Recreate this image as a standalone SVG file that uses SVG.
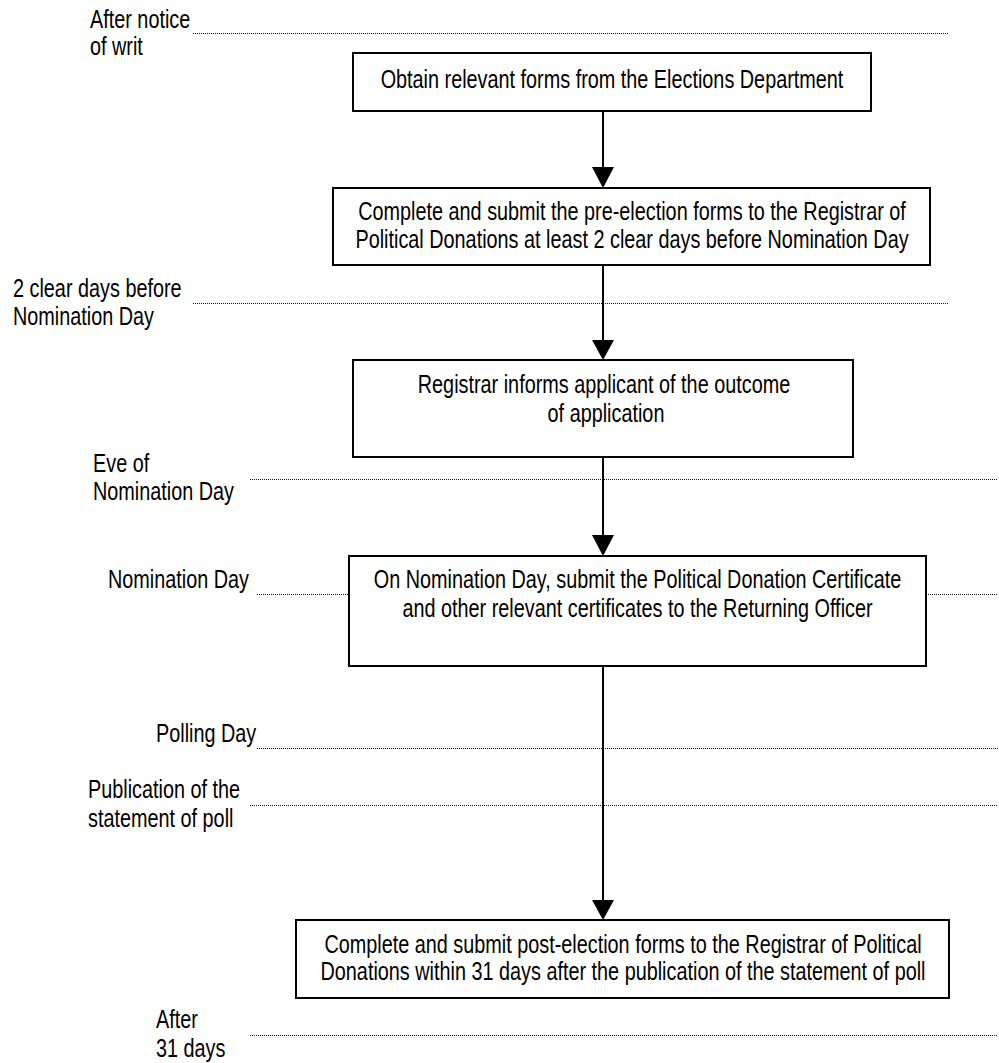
<svg xmlns="http://www.w3.org/2000/svg" width="999" height="1063" viewBox="0 0 999 1063">
<style>
text{font-family:"Liberation Sans",Arial,sans-serif;font-size:25.5px;fill:#000}
.c{text-anchor:middle}
.box{fill:#fff;stroke:#000;stroke-width:2}
.dot{stroke:#111;stroke-width:1;stroke-dasharray:1 1;fill:none}
.conn{stroke:#000;stroke-width:2;fill:none}
.head{fill:#000}
</style>
<rect width="999" height="1063" fill="#fff"/>
<g id="timeline">
<line class="dot" x1="193" y1="33.5" x2="948" y2="33.5"/>
<line class="dot" x1="193" y1="303.5" x2="948" y2="303.5"/>
<line class="dot" x1="250" y1="479.5" x2="998" y2="479.5"/>
<line class="dot" x1="257" y1="594.5" x2="349" y2="594.5"/>
<line class="dot" x1="928" y1="594.5" x2="998" y2="594.5"/>
<line class="dot" x1="257" y1="748.5" x2="998" y2="748.5"/>
<line class="dot" x1="250" y1="805.5" x2="998" y2="805.5"/>
<line class="dot" x1="250" y1="1035.5" x2="998" y2="1035.5"/>
<text transform="matrix(0.778 0 0 1 90 28)">After notice</text>
<text transform="matrix(0.778 0 0 1 90 55)">of writ</text>
<text transform="matrix(0.778 0 0 1 13 297)">2 clear days before</text>
<text transform="matrix(0.778 0 0 1 13 325)">Nomination Day</text>
<text transform="matrix(0.778 0 0 1 93 472)">Eve of</text>
<text transform="matrix(0.778 0 0 1 93 500)">Nomination Day</text>
<text transform="matrix(0.778 0 0 1 108 588)">Nomination Day</text>
<text transform="matrix(0.778 0 0 1 156 742)">Polling Day</text>
<text transform="matrix(0.778 0 0 1 88 798)">Publication of the</text>
<text transform="matrix(0.778 0 0 1 88 827)">statement of poll</text>
<text transform="matrix(0.778 0 0 1 156 1028)">After</text>
<text transform="matrix(0.778 0 0 1 156 1057)">31 days</text>
</g>
<g id="connectors">
<line class="conn" x1="603" y1="111" x2="603" y2="170"/>
<polygon class="head" points="592,167 614,167 603,188"/>
<line class="conn" x1="603" y1="265" x2="603" y2="343"/>
<polygon class="head" points="592,340 614,340 603,360"/>
<line class="conn" x1="603" y1="457" x2="603" y2="538"/>
<polygon class="head" points="592,535 614,535 603,556"/>
<line class="conn" x1="603" y1="666" x2="603" y2="903"/>
<polygon class="head" points="592,900 614,900 603,920"/>
</g>
<g id="node1">
<rect class="box" x="353" y="53" width="518" height="58"/>
<text class="c" transform="matrix(0.778 0 0 1 612 88)">Obtain relevant forms from the Elections Department</text>
</g>
<g id="node2">
<rect class="box" x="333" y="188" width="597" height="77"/>
<text class="c" transform="matrix(0.778 0 0 1 632 220)">Complete and submit the pre-election forms to the Registrar of</text>
<text class="c" transform="matrix(0.778 0 0 1 632 248)">Political Donations at least 2 clear days before Nomination Day</text>
</g>
<g id="node3">
<rect class="box" x="353" y="360" width="500" height="97"/>
<text class="c" transform="matrix(0.778 0 0 1 604 393)">Registrar informs applicant of the outcome</text>
<text class="c" transform="matrix(0.778 0 0 1 606 422)">of application</text>
</g>
<g id="node4">
<rect class="box" x="349" y="556" width="577" height="110"/>
<text class="c" transform="matrix(0.778 0 0 1 637.5 588)">On Nomination Day, submit the Political Donation Certificate</text>
<text class="c" transform="matrix(0.778 0 0 1 637.5 617)">and other relevant certificates to the Returning Officer</text>
</g>
<g id="node5">
<rect class="box" x="296" y="920" width="653" height="78"/>
<text class="c" transform="matrix(0.778 0 0 1 623 953)">Complete and submit post-election forms to the Registrar of Political</text>
<text class="c" transform="matrix(0.778 0 0 1 623 980)">Donations within 31 days after the publication of the statement of poll</text>
</g>
</svg>
